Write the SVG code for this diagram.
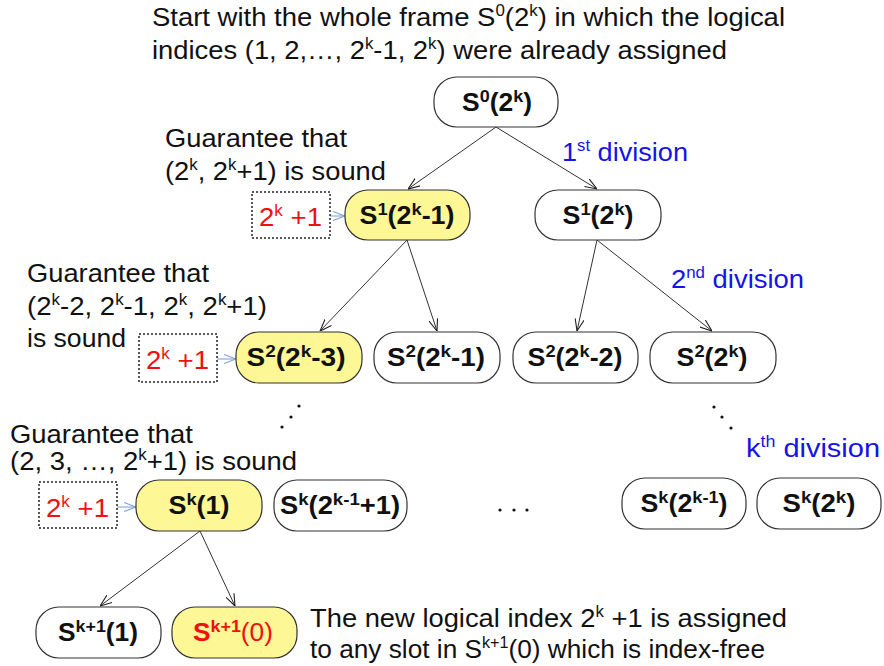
<svg xmlns="http://www.w3.org/2000/svg" width="884" height="666" viewBox="0 0 884 666">
<defs>
<marker id="ah" viewBox="0 0 12 10" refX="12" refY="5" markerWidth="12" markerHeight="10" markerUnits="userSpaceOnUse" orient="auto">
<path d="M0,0.5 L12,5 L0,9.5" fill="none" stroke="#222" stroke-width="1.1"/>
</marker>
<marker id="ahb" viewBox="0 0 12 10" refX="12" refY="5" markerWidth="12" markerHeight="10" markerUnits="userSpaceOnUse" orient="auto">
<path d="M0,0.5 L12,5 L0,9.5" fill="none" stroke="#7a9bd0" stroke-width="1.1"/>
</marker>
<style>
.t{font-family:"Liberation Sans",Arial,sans-serif;font-size:26px;fill:#111}
.blue{fill:#1414e6}
.red{fill:#ee1111}
.n{font-family:"Liberation Sans",Arial,sans-serif;font-size:25px;font-weight:bold;fill:#111;text-anchor:middle}
.box{fill:#fff;stroke:#333;stroke-width:1.2}
.yel{fill:#fdf796;stroke:#333;stroke-width:1.2}
.dot{fill:#fff;stroke:#222;stroke-width:1.5;stroke-dasharray:2 2}
.c{stroke:#333;stroke-width:1;fill:none;marker-end:url(#ah)}
.cb{stroke:#7a9bd0;stroke-width:1;fill:none;marker-end:url(#ahb)}
.s{font-size:17px}
.s2{font-size:16px}
</style>
</defs>
<rect width="884" height="666" fill="#fff"/>

<g id="title">
<text class="t" x="152" y="26" textLength="633" lengthAdjust="spacingAndGlyphs">Start with the whole frame S<tspan class="s2" dy="-10">0</tspan><tspan dy="10">(2</tspan><tspan class="s2" dy="-10">k</tspan><tspan dy="10">) in which the logical</tspan></text>
<text class="t" x="152" y="59" textLength="575" lengthAdjust="spacingAndGlyphs">indices (1, 2,…, 2<tspan class="s2" dy="-10">k</tspan><tspan dy="10">-1, 2</tspan><tspan class="s2" dy="-10">k</tspan><tspan dy="10">) were already assigned</tspan></text>
</g>

<g id="connectors">
<line class="c" x1="496" y1="127" x2="408" y2="189"/>
<line class="c" x1="496" y1="127" x2="597" y2="189"/>
<line class="c" x1="407" y1="240" x2="320" y2="331"/>
<line class="c" x1="407" y1="240" x2="437" y2="331"/>
<line class="c" x1="597" y1="240" x2="577" y2="331"/>
<line class="c" x1="597" y1="240" x2="712" y2="331"/>
<line class="c" x1="200" y1="531" x2="100" y2="606"/>
<line class="c" x1="200" y1="531" x2="235" y2="606"/>
<line class="cb" x1="330" y1="216" x2="345" y2="216"/>
<line class="cb" x1="217" y1="359" x2="236" y2="359"/>
<line class="cb" x1="117" y1="507" x2="136" y2="507"/>
</g>

<g id="n_s0">
<rect class="box" x="434" y="77" width="124" height="50" rx="23"/>
<text class="n" x="497" y="111" textLength="70" lengthAdjust="spacingAndGlyphs">S<tspan class="s" dy="-9">0</tspan><tspan dy="9">(2</tspan><tspan class="s" dy="-9">k</tspan><tspan dy="9">)</tspan></text>
</g>

<g id="n_s1a">
<rect class="yel" x="345" y="190" width="125" height="50" rx="23"/>
<text class="n" x="407" y="224" textLength="95" lengthAdjust="spacingAndGlyphs">S<tspan class="s" dy="-9">1</tspan><tspan dy="9">(2</tspan><tspan class="s" dy="-9">k</tspan><tspan dy="9">-1)</tspan></text>
</g>
<g id="n_s1b">
<rect class="box" x="535" y="190" width="126" height="50" rx="23"/>
<text class="n" x="598" y="224" textLength="71" lengthAdjust="spacingAndGlyphs">S<tspan class="s" dy="-9">1</tspan><tspan dy="9">(2</tspan><tspan class="s" dy="-9">k</tspan><tspan dy="9">)</tspan></text>
</g>

<g id="n_s2a">
<rect class="yel" x="236" y="332" width="126" height="51" rx="23"/>
<text class="n" x="296" y="366" textLength="99" lengthAdjust="spacingAndGlyphs">S<tspan class="s" dy="-9">2</tspan><tspan dy="9">(2</tspan><tspan class="s" dy="-9">k</tspan><tspan dy="9">-3)</tspan></text>
</g>
<g id="n_s2b">
<rect class="box" x="374" y="332" width="126" height="51" rx="23"/>
<text class="n" x="436" y="366" textLength="98" lengthAdjust="spacingAndGlyphs">S<tspan class="s" dy="-9">2</tspan><tspan dy="9">(2</tspan><tspan class="s" dy="-9">k</tspan><tspan dy="9">-1)</tspan></text>
</g>
<g id="n_s2c">
<rect class="box" x="513" y="332" width="125" height="51" rx="23"/>
<text class="n" x="575" y="366" textLength="95" lengthAdjust="spacingAndGlyphs">S<tspan class="s" dy="-9">2</tspan><tspan dy="9">(2</tspan><tspan class="s" dy="-9">k</tspan><tspan dy="9">-2)</tspan></text>
</g>
<g id="n_s2d">
<rect class="box" x="650" y="332" width="126" height="51" rx="23"/>
<text class="n" x="712" y="366" textLength="71" lengthAdjust="spacingAndGlyphs">S<tspan class="s" dy="-9">2</tspan><tspan dy="9">(2</tspan><tspan class="s" dy="-9">k</tspan><tspan dy="9">)</tspan></text>
</g>

<g id="n_ska">
<rect class="yel" x="136" y="480" width="126" height="51" rx="23"/>
<text class="n" x="199" y="514" textLength="61" lengthAdjust="spacingAndGlyphs">S<tspan class="s" dy="-9">k</tspan><tspan dy="9">(1)</tspan></text>
</g>
<g id="n_skb">
<rect class="box" x="274" y="480" width="133" height="51" rx="23"/>
<text class="n" x="340" y="514" textLength="120" lengthAdjust="spacingAndGlyphs">S<tspan class="s" dy="-9">k</tspan><tspan dy="9">(2</tspan><tspan class="s" dy="-9">k-1</tspan><tspan dy="9">+1)</tspan></text>
</g>
<g id="n_skc">
<rect class="box" x="622" y="478" width="124" height="51" rx="23"/>
<text class="n" x="684" y="512" textLength="87" lengthAdjust="spacingAndGlyphs">S<tspan class="s" dy="-9">k</tspan><tspan dy="9">(2</tspan><tspan class="s" dy="-9">k-1</tspan><tspan dy="9">)</tspan></text>
</g>
<g id="n_skd">
<rect class="box" x="757" y="478" width="124" height="51" rx="23"/>
<text class="n" x="819" y="512" textLength="73" lengthAdjust="spacingAndGlyphs">S<tspan class="s" dy="-9">k</tspan><tspan dy="9">(2</tspan><tspan class="s" dy="-9">k</tspan><tspan dy="9">)</tspan></text>
</g>

<g id="n_sk1a">
<rect class="box" x="36" y="607" width="125" height="51" rx="23"/>
<text class="n" x="98" y="641" textLength="80" lengthAdjust="spacingAndGlyphs">S<tspan class="s" dy="-9">k+1</tspan><tspan dy="9">(1)</tspan></text>
</g>
<g id="n_sk1b">
<rect class="yel" x="172" y="607" width="125" height="51" rx="23"/>
<text class="n" x="233" y="641" textLength="80" lengthAdjust="spacingAndGlyphs" style="fill:#ee1111">S<tspan class="s" dy="-9">k+1</tspan><tspan dy="9" font-weight="normal">(0)</tspan></text>
</g>

<g id="new1">
<rect class="dot" x="252" y="192" width="78" height="46"/>
<text class="t red" x="259" y="226" textLength="63" lengthAdjust="spacingAndGlyphs">2<tspan class="s2" dy="-10">k</tspan><tspan dy="10"> +1</tspan></text>
</g>
<g id="new2">
<rect class="dot" x="139" y="334" width="78" height="48"/>
<text class="t red" x="146" y="369" textLength="63" lengthAdjust="spacingAndGlyphs">2<tspan class="s2" dy="-10">k</tspan><tspan dy="10"> +1</tspan></text>
</g>
<g id="new3">
<rect class="dot" x="39" y="482" width="78" height="46"/>
<text class="t red" x="46" y="517" textLength="63" lengthAdjust="spacingAndGlyphs">2<tspan class="s2" dy="-10">k</tspan><tspan dy="10"> +1</tspan></text>
</g>

<g id="labels">
<text class="t" x="165" y="147" textLength="182" lengthAdjust="spacingAndGlyphs">Guarantee that</text>
<text class="t" x="165" y="180" textLength="221" lengthAdjust="spacingAndGlyphs">(2<tspan class="s2" dy="-10">k</tspan><tspan dy="10">, 2</tspan><tspan class="s2" dy="-10">k</tspan><tspan dy="10">+1) is sound</tspan></text>
<text class="t" x="27" y="282" textLength="182" lengthAdjust="spacingAndGlyphs">Guarantee that</text>
<text class="t" x="27" y="315" textLength="240" lengthAdjust="spacingAndGlyphs">(2<tspan class="s2" dy="-10">k</tspan><tspan dy="10">-2, 2</tspan><tspan class="s2" dy="-10">k</tspan><tspan dy="10">-1, 2</tspan><tspan class="s2" dy="-10">k</tspan><tspan dy="10">, 2</tspan><tspan class="s2" dy="-10">k</tspan><tspan dy="10">+1)</tspan></text>
<text class="t" x="27" y="347" textLength="99" lengthAdjust="spacingAndGlyphs">is sound</text>
<text class="t" x="10" y="443" textLength="183" lengthAdjust="spacingAndGlyphs">Guarantee that</text>
<text class="t" x="10" y="470" textLength="287" lengthAdjust="spacingAndGlyphs">(2, 3, …, 2<tspan class="s2" dy="-10">k</tspan><tspan dy="10">+1) is sound</tspan></text>
<text class="t blue" x="562" y="161" textLength="126" lengthAdjust="spacingAndGlyphs">1<tspan class="s2" dy="-10">st</tspan><tspan dy="10"> division</tspan></text>
<text class="t blue" x="671" y="288" textLength="133" lengthAdjust="spacingAndGlyphs">2<tspan class="s2" dy="-10">nd</tspan><tspan dy="10"> division</tspan></text>
<text class="t blue" x="746" y="457" textLength="134" lengthAdjust="spacingAndGlyphs">k<tspan class="s2" dy="-10">th</tspan><tspan dy="10">  division</tspan></text>
<text class="t" x="310" y="627" textLength="477" lengthAdjust="spacingAndGlyphs">The new logical index 2<tspan class="s2" dy="-10">k</tspan><tspan dy="10"> +1 is assigned</tspan></text>
<text class="t" x="310" y="658" textLength="455" lengthAdjust="spacingAndGlyphs">to any slot in S<tspan class="s2" dy="-10">k+1</tspan><tspan dy="10">(0) which is index-free</tspan></text>
</g>

<g id="ellipses" fill="#111">
<circle cx="282" cy="427" r="1.6"/><circle cx="291" cy="417" r="1.6"/><circle cx="299" cy="406" r="1.6"/>
<circle cx="714" cy="407" r="1.6"/><circle cx="722" cy="417" r="1.6"/><circle cx="731" cy="428" r="1.6"/>
<circle cx="500" cy="510" r="1.6"/><circle cx="514" cy="510" r="1.6"/><circle cx="527" cy="510" r="1.6"/>
</g>
</svg>
